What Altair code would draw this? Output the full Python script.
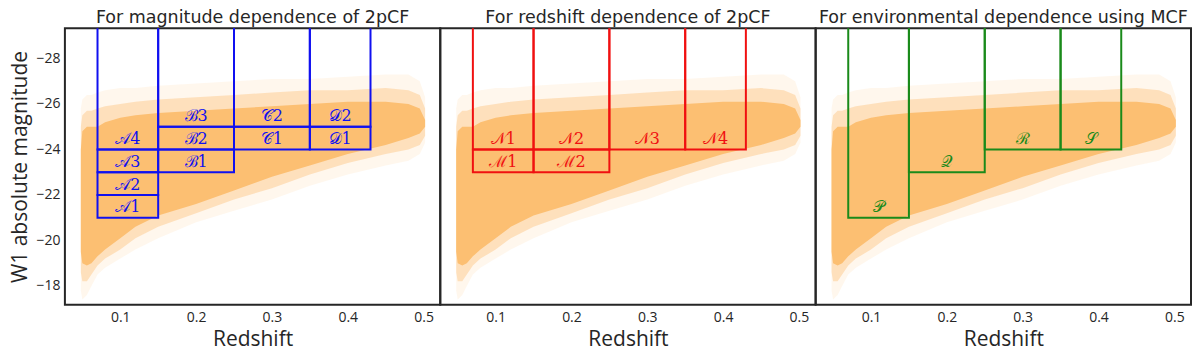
import altair as alt
import pandas as pd

# ---- cloud of galaxies: envelope (redshift vs W1 magnitude)
ENV_Z   = [0.048, 0.050, 0.056, 0.062, 0.070, 0.080, 0.100, 0.120, 0.150, 0.200, 0.250, 0.300, 0.350, 0.400, 0.450, 0.480, 0.495, 0.502]
CORE_HI = [-24.0, -24.8, -25.0, -25.0, -25.0, -25.2, -25.4, -25.5, -25.6, -25.7, -25.8, -25.9, -26.0, -26.1, -26.1, -26.0, -25.8, -25.3]
CORE_LO = [-19.5, -19.0, -18.9, -19.0, -19.3, -19.6, -20.1, -20.6, -21.1, -21.6, -22.2, -22.8, -23.3, -23.8, -24.2, -24.5, -24.7, -25.0]
MID_HI  = [-25.0, -25.5, -25.7, -25.7, -25.8, -25.9, -26.0, -26.1, -26.2, -26.3, -26.4, -26.5, -26.6, -26.6, -26.7, -26.6, -26.4, -25.8]
MID_LO  = [-18.6, -18.2, -18.2, -18.5, -18.9, -19.2, -19.6, -20.1, -20.6, -21.2, -21.8, -22.3, -22.9, -23.4, -23.8, -24.0, -24.2, -24.6]
OUT_HI  = [-25.8, -26.2, -26.4, -26.4, -26.5, -26.6, -26.7, -26.7, -26.8, -26.9, -27.0, -27.1, -27.1, -27.2, -27.3, -27.3, -27.0, -26.3]
OUT_LO  = [-17.8, -17.4, -17.6, -18.0, -18.5, -18.8, -19.2, -19.6, -20.1, -20.8, -21.3, -21.8, -22.4, -22.9, -23.3, -23.5, -23.8, -24.3]

# ---- sample boxes (redshift range, magnitude range; -30 = open to the top)
MAG_NAMES = ["\U0001D49C1", "\U0001D49C2", "\U0001D49C3", "\U0001D49C4",
             "\u212C1", "\u212C2", "\u212C3",
             "\U0001D49E1", "\U0001D49E2",
             "\U0001D49F1", "\U0001D49F2"]
MAG_Z0 = [0.07, 0.07, 0.07, 0.07, 0.15, 0.15, 0.15, 0.25, 0.25, 0.35, 0.35]
MAG_Z1 = [0.15, 0.15, 0.15, 0.15, 0.25, 0.25, 0.25, 0.35, 0.35, 0.43, 0.43]
MAG_M0 = [-21, -22, -23, -24, -23, -24, -25, -24, -25, -24, -25]
MAG_M1 = [-22, -23, -24, -30, -24, -25, -30, -25, -30, -25, -30]

RED_NAMES = ["\u21331", "\u21332",
             "\U0001D4A91", "\U0001D4A92", "\U0001D4A93", "\U0001D4A94"]
RED_Z0 = [0.07, 0.15, 0.07, 0.15, 0.25, 0.35]
RED_Z1 = [0.15, 0.25, 0.15, 0.25, 0.35, 0.43]
RED_M0 = [-23, -23, -24, -24, -24, -24]
RED_M1 = [-24, -24, -30, -30, -30, -30]

ENV_NAMES = ["\U0001D4AB", "\U0001D4AC", "\u211B", "\U0001D4AE"]
ENV_Z0 = [0.07, 0.15, 0.25, 0.35]
ENV_Z1 = [0.15, 0.25, 0.35, 0.43]
ENV_M0 = [-21, -23, -24, -24]
ENV_M1 = [-30, -30, -30, -30]

X_TICKS = [0.1, 0.2, 0.3, 0.4, 0.5]
Y_TICKS = [-28, -26, -24, -22, -20, -18]

TITLES = ["For magnitude dependence of 2pCF",
          "For redshift dependence of 2pCF",
          "For environmental dependence using MCF"]

FONT = "Open Sans"
TITLE_FONT = "DejaVu Sans"
TXT = "#262626"
ORANGE = "#fcbf72"

cloud = pd.DataFrame({"z": ENV_Z, "chi": CORE_HI, "clo": CORE_LO,
                      "mhi": MID_HI, "mlo": MID_LO, "ohi": OUT_HI, "olo": OUT_LO})

xscale = alt.Scale(domain=[0.027, 0.522], nice=False, zero=False)
yscale = alt.Scale(domain=[-29.33, -17.17], nice=False, zero=False, reverse=True)


def xenc(field):
    return alt.X(field, type="quantitative", scale=xscale,
                 axis=alt.Axis(values=X_TICKS, format=".1f", title="Redshift"))


def yenc(field, show):
    if show:
        ax = alt.Axis(values=Y_TICKS, format="d", title="W1 absolute magnitude")
    else:
        ax = None
    return alt.Y(field, type="quantitative", scale=yscale, axis=ax)


def panel(names, z0, z1, m0, m1, color, title, show_y):
    boxes = pd.DataFrame({"name": names, "z0": z0, "z1": z1, "m0": m0, "m1": m1})
    boxes["zc"] = (boxes["z0"] + boxes["z1"]) / 2
    boxes["ml"] = boxes["m0"] - 0.45

    outer = alt.Chart(cloud).mark_area(color=ORANGE, opacity=0.13).encode(
        x=xenc("z"), y=yenc("ohi", show_y), y2="olo")
    mid = alt.Chart(cloud).mark_area(color=ORANGE, opacity=0.4).encode(
        x=xenc("z"), y=yenc("mhi", show_y), y2="mlo")
    core = alt.Chart(cloud).mark_area(color=ORANGE, opacity=1.0).encode(
        x=xenc("z"), y=yenc("chi", show_y), y2="clo")
    rects = alt.Chart(boxes).mark_rect(fillOpacity=0, stroke=color, strokeWidth=2,
                                       clip=True).encode(
        x=xenc("z0"), x2="z1", y=yenc("m0", show_y), y2="m1")
    labels = alt.Chart(boxes).mark_text(color=color, fontSize=16, font="DejaVu Serif",
                                        baseline="middle").encode(
        x=xenc("zc"), y=yenc("ml", show_y), text="name:N")
    return alt.layer(outer, mid, core, rects, labels).properties(
        width=376, height=277,
        title=alt.TitleParams(title, fontSize=17.5, font=TITLE_FONT, fontWeight="normal",
                              color=TXT, offset=1.5, anchor="middle"))


p1 = panel(MAG_NAMES, MAG_Z0, MAG_Z1, MAG_M0, MAG_M1, "#1010f0", TITLES[0], True)
p2 = panel(RED_NAMES, RED_Z0, RED_Z1, RED_M0, RED_M1, "#f01010", TITLES[1], False)
p3 = panel(ENV_NAMES, ENV_Z0, ENV_Z1, ENV_M0, ENV_M1, "#1a8a1a", TITLES[2], False)

chart = alt.hconcat(p1, p2, p3, spacing=0, bounds="flush").configure(
    padding=0
).configure_view(
    stroke=TXT, strokeWidth=2
).configure_axis(
    grid=False, ticks=False, domain=False, labelFont=FONT, titleFont=FONT,
    labelFontSize=14, titleFontSize=21, labelColor=TXT, titleColor=TXT,
    titleFontWeight="normal"
).configure_axisX(
    labelPadding=6, titlePadding=4
).configure_axisY(
    labelPadding=5, titlePadding=5
)

chart.save("out.html", embed_options={"renderer": "svg", "actions": False})
